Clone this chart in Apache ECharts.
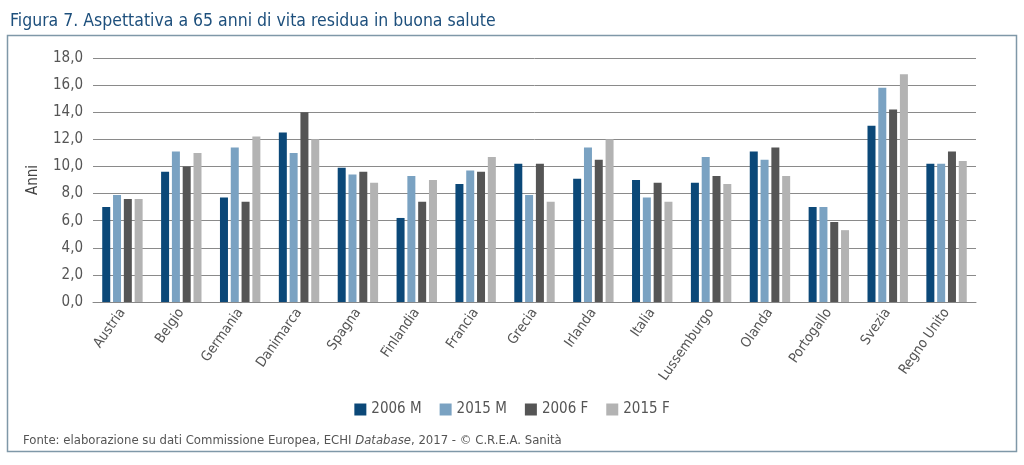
<!DOCTYPE html>
<html>
<head>
<meta charset="utf-8">
<script src="https://cdn.jsdelivr.net/npm/echarts@6/dist/echarts.min.js"></script>
<style>
html,body{margin:0;padding:0;background:#fff;}
#c{width:1024px;height:465px;}
</style>
</head>
<body>
<div id="c"></div>
<script>
const categories = ["Austria","Belgio","Germania","Danimarca","Spagna","Finlandia","Francia","Grecia","Irlanda","Italia","Lussemburgo","Olanda","Portogallo","Svezia","Regno Unito"];
const seriesNames = ["2006 M","2015 M","2006 F","2015 F"];
const m2006 = [7.0, 9.6, 7.7, 12.5, 9.9, 6.2, 8.7, 10.2, 9.1, 9.0, 8.8, 11.1, 7.0, 13.0, 10.2];
const m2015 = [7.9, 11.1, 11.4, 11.0, 9.4, 9.3, 9.7, 7.9, 11.4, 7.7, 10.7, 10.5, 7.0, 15.8, 10.2];
const f2006 = [7.6, 10.0, 7.4, 14.0, 9.6, 7.4, 9.6, 10.2, 10.5, 8.8, 9.3, 11.4, 5.9, 14.2, 11.1];
const f2015 = [7.6, 11.0, 12.2, 12.0, 8.8, 9.0, 10.7, 7.4, 12.0, 7.4, 8.7, 9.3, 5.3, 16.8, 10.4];
const yTicks = [0, 2, 4, 6, 8, 10, 12, 14, 16, 18];

const colors = ["#0b4878", "#7aa2c2", "#555555", "#b3b3b3"];
const FONT = "'Liberation Sans Narrow','DejaVu Sans Condensed',sans-serif";
const dataSets = [m2006, m2015, f2006, f2015];

const chart = echarts.init(document.getElementById('c'), null, {renderer: 'canvas'});
chart.setOption({
  animation: false,
  color: colors,
  textStyle: {fontFamily: FONT},
  title: [{
    text: "Figura 7. Aspettativa a 65 anni di vita residua in buona salute",
    left: 5, top: 7,
    textStyle: {fontFamily: FONT, fontSize: 17.5, fontWeight: 'normal', color: '#1d4f7c'}
  }, {
    text: "{n|Fonte: elaborazione su dati Commissione Europea, ECHI }{i|Database}{n|, 2017 - © C.R.E.A. Sanità}",
    left: 18, top: 429,
    textStyle: {
      fontFamily: FONT, fontSize: 13, fontWeight: 'normal', color: '#555',
      rich: {
        n: {fontFamily: FONT, fontSize: 13, color: '#555'},
        i: {fontFamily: FONT, fontSize: 13, color: '#555', fontStyle: 'italic'}
      }
    }
  }],
  graphic: [{
    type: 'rect',
    shape: {x: 7.5, y: 35.5, width: 1009, height: 416},
    style: {fill: 'none', stroke: '#7f98a8', lineWidth: 1.5},
    silent: true
  }],
  legend: {
    data: seriesNames,
    left: 'center', top: 397,
    itemWidth: 12, itemHeight: 12, itemGap: 18,
    icon: 'rect',
    textStyle: {fontFamily: FONT, fontSize: 15, color: '#555'}
  },
  grid: {left: 93, right: 48, top: 58, bottom: 163, containLabel: false},
  xAxis: {
    type: 'category',
    data: categories,
    axisLine: {show: true, lineStyle: {color: '#888', width: 1}},
    axisTick: {show: false},
    axisLabel: {rotate: 55, fontFamily: FONT, fontSize: 14, color: '#555', margin: 8, interval: 0}
  },
  yAxis: {
    type: 'value',
    min: 0, max: 18, interval: 2,
    name: 'Anni',
    nameLocation: 'middle',
    nameGap: 52,
    nameRotate: 90,
    nameTextStyle: {fontFamily: FONT, fontSize: 15, color: '#444'},
    axisLine: {show: false},
    axisTick: {show: false},
    splitLine: {lineStyle: {color: '#8a8a8a', width: 1}},
    axisLabel: {
      fontFamily: FONT, fontSize: 15, color: '#555', margin: 10,
      formatter: v => yTicks.includes(v) ? v.toFixed(1).replace('.', ',') : ''
    }
  },
  series: seriesNames.map((n, i) => ({
    name: n,
    type: 'bar',
    data: dataSets[i],
    barWidth: 8,
    barGap: '35%',
    itemStyle: {color: colors[i]}
  }))
});
</script>
</body>
</html>
